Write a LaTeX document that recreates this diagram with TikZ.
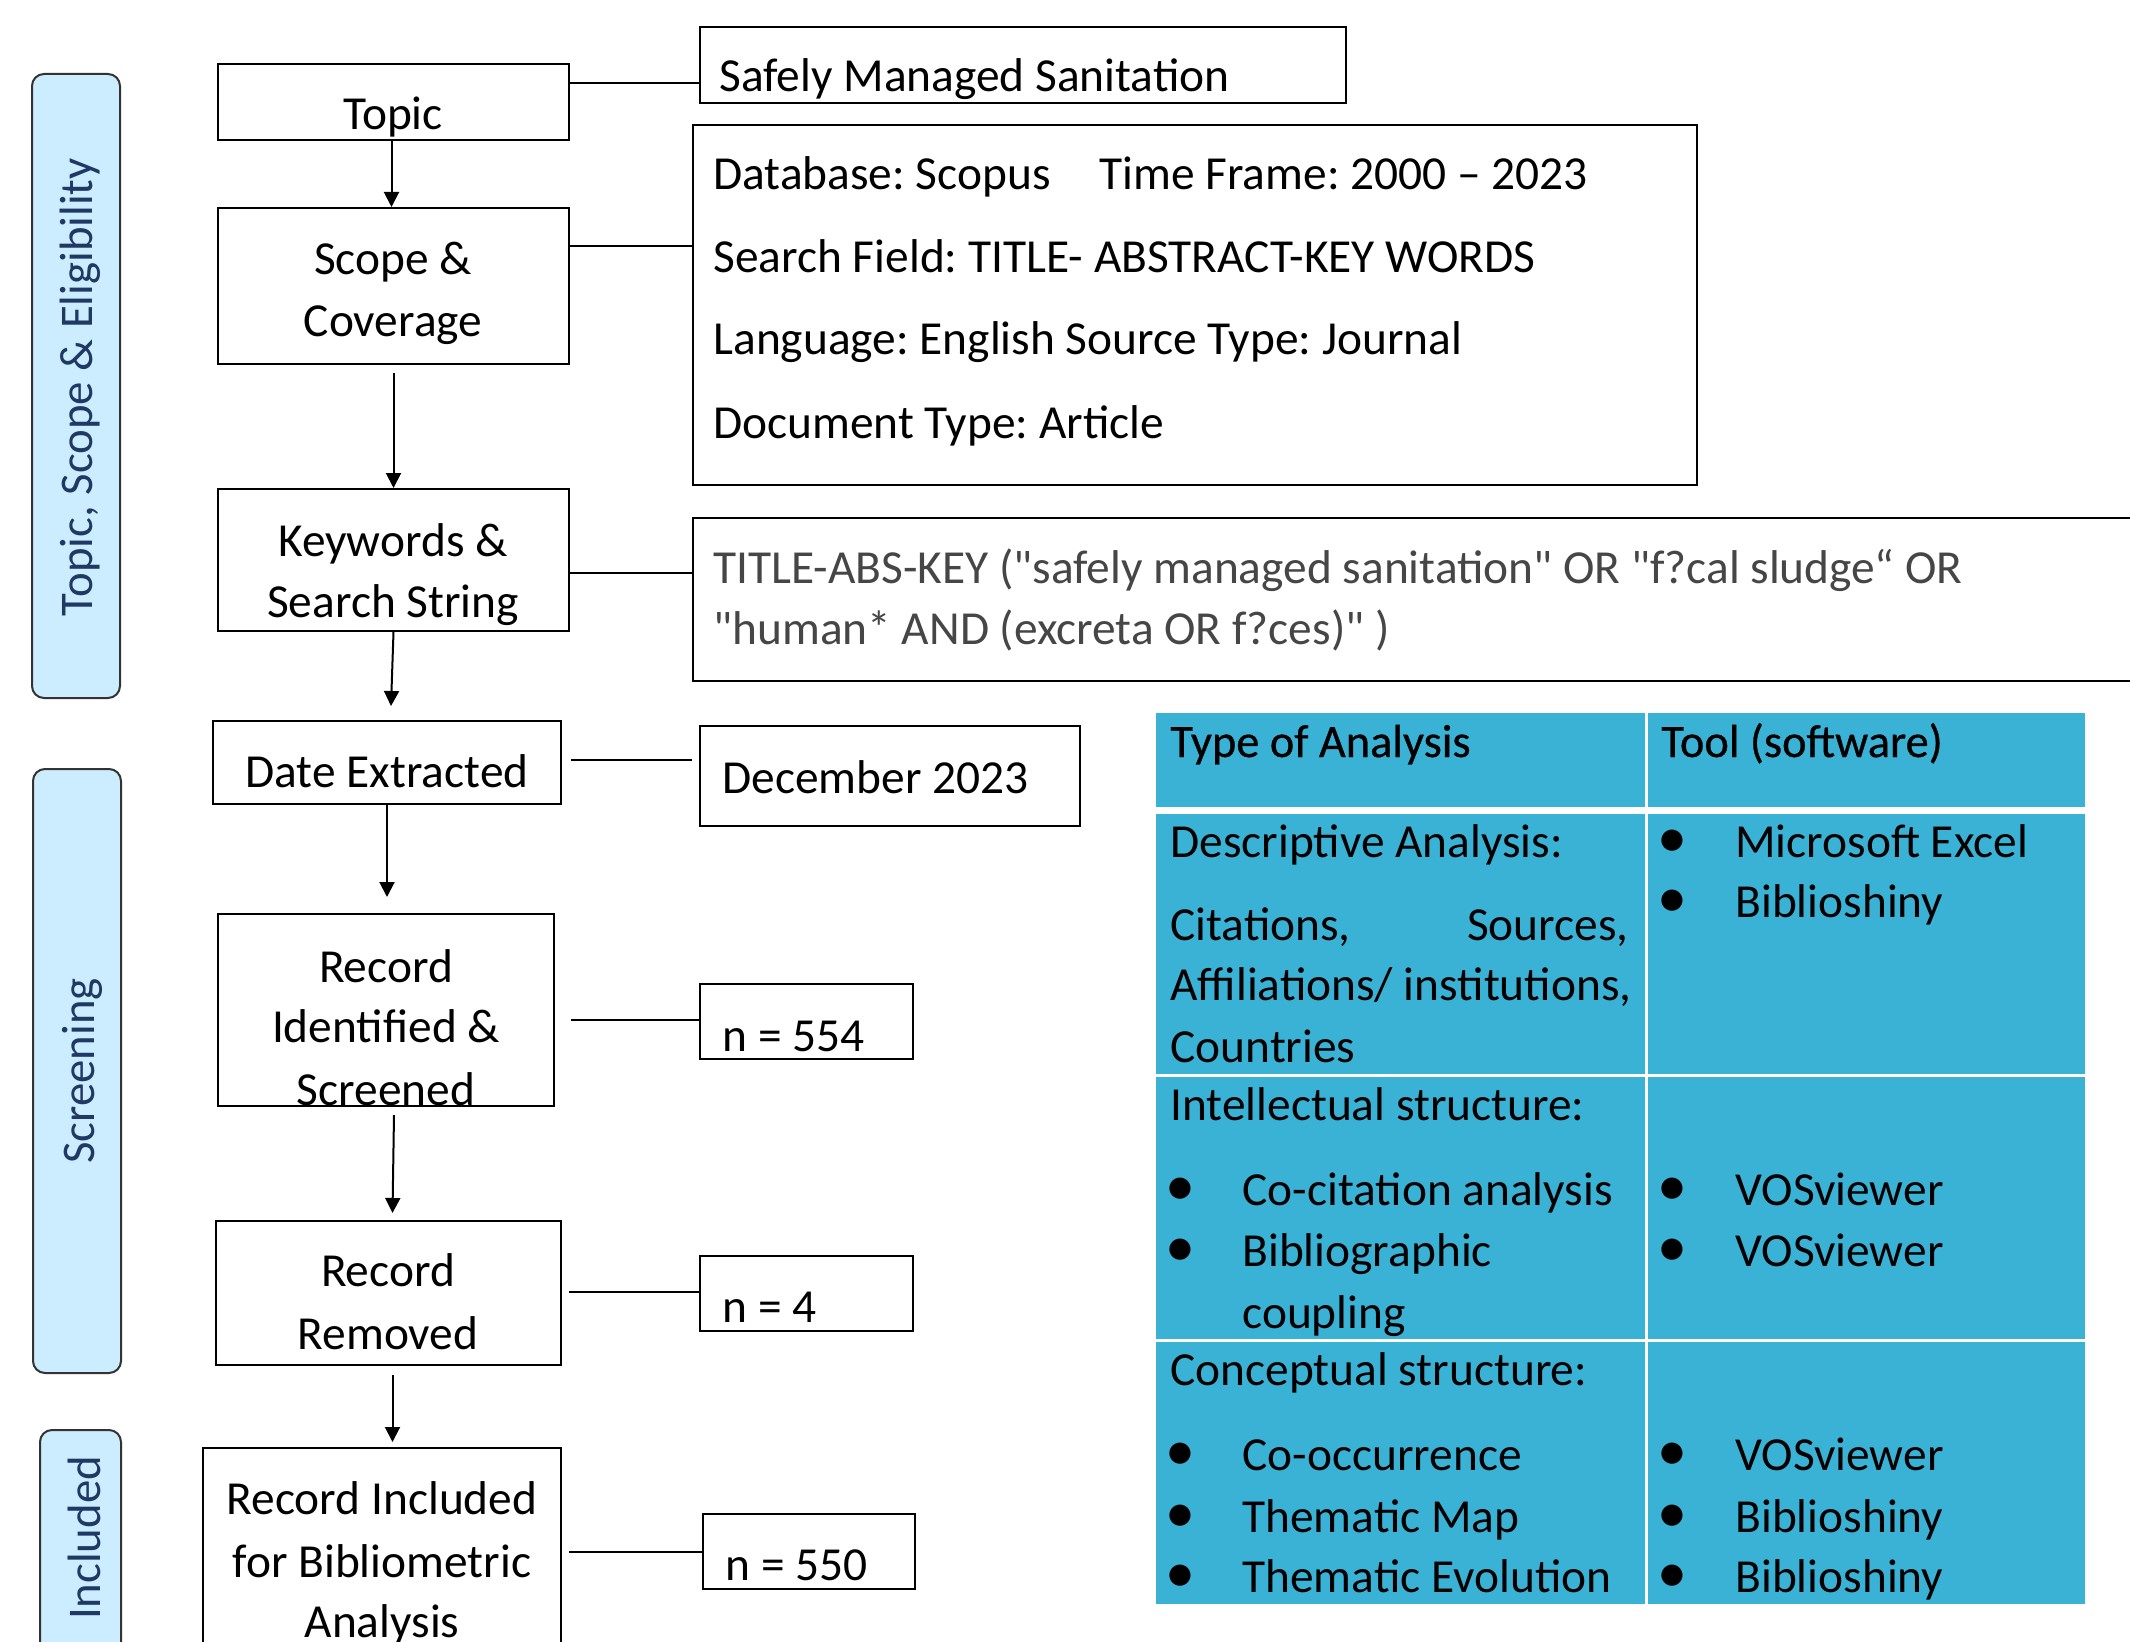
\documentclass[tikz,border=0pt]{standalone}
\usepackage{fontspec}
\setmainfont{Carlito}
\frenchspacing
\usetikzlibrary{arrows.meta,calc}
\definecolor{barfill}{RGB}{204,236,255}
\definecolor{barblue}{RGB}{31,56,100}
\definecolor{tabblue}{RGB}{57,178,214}
\definecolor{qgray}{RGB}{70,70,70}
\newcommand{\qd}{\textquotedbl}
\begin{document}
\begin{tikzpicture}[x=0.5pt,y=-0.5pt,
  box/.style={draw,line width=1pt,inner sep=0pt},
  bar/.style={draw=black!80,fill=barfill,line width=1pt,rounded corners=6pt,inner sep=0pt},
  bartxt/.style={rotate=90,text=barblue,font=\fontsize{23.4}{27}\selectfont,inner sep=0pt},
  txt/.style={font=\fontsize{23.7}{27}\selectfont,inner sep=0pt},
  ttxt/.style={font=\fontsize{23.7}{27}\selectfont,inner sep=0pt,anchor=base west},
  htxt/.style={font=\fontsize{23.2}{27}\selectfont\addfontfeature{FakeBold=0.6},inner sep=0pt,anchor=base west},
  bul/.style={font=\fontsize{30}{30}\selectfont,inner sep=0pt,anchor=base},
  cell/.style={fill=tabblue,inner sep=0pt},
  arr/.style={line width=1pt,-{Triangle[length=7.5pt,width=7.5pt]}},
  conn/.style={line width=1pt}]
\useasboundingbox (0,0) rectangle (2130,1642);
\clip (0,0) rectangle (2130,1642);
\fill[white] (0,0) rectangle (2130,1642);

% side bars
\node[bar,minimum width=44pt,minimum height=312pt] (bar1) at (76,386) {};
\node[bartxt] (bar1t) at (80,387) {Topic, Scope \& Eligibility};
\node[bar,minimum width=44pt,minimum height=302pt] (bar2) at (77,1071) {};
\node[bartxt] (bar2t) at (82,1071) {Screening};
\node[bar,minimum width=40.5pt,minimum height=160pt] (bar3) at (80.5,1590) {};
\node[bartxt] (bar3t) at (84,1538) {Included};

% flow boxes
\node[box,minimum width=175.5pt,minimum height=38pt] (topic) at (393.5,102) {};
\node[txt,anchor=base] (topict) at (393,130) {Topic};
\node[box,minimum width=175.5pt,minimum height=78pt] (scope) at (393.5,286) {};
\node[txt,anchor=base] (scopet1) at (393,275) {Scope \&};
\node[txt,anchor=base] (scopet2) at (393,337) {Coverage};
\node[box,minimum width=175.5pt,minimum height=71pt] (keywords) at (393.5,560) {};
\node[txt,anchor=base] (kwt1) at (393,556) {Keywords \&};
\node[txt,anchor=base] (kwt2) at (393,617) {Search String};
\node[box,minimum width=174pt,minimum height=41.5pt] (date) at (387,762.5) {};
\node[txt,anchor=base] (datet) at (387,787) {Date Extracted};
\node[box,minimum width=168pt,minimum height=96pt] (ident) at (386,1010) {};
\node[txt,anchor=base] (identt1) at (386,982) {Record};
\node[txt,anchor=base] (identt2) at (386,1042) {Identified \&};
\node[txt,anchor=base] (identt3) at (386,1105) {Screened};
\node[box,minimum width=172.5pt,minimum height=72pt] (removed) at (388.5,1293) {};
\node[txt,anchor=base] (remt1) at (388,1286) {Record};
\node[txt,anchor=base] (remt2) at (388,1349) {Removed};
\node[box,minimum width=179pt,minimum height=126pt] (included) at (382,1574) {};
\node[txt,anchor=base] (inct1) at (382,1514) {Record Included};
\node[txt,anchor=base] (inct2) at (382,1577) {for Bibliometric};
\node[txt,anchor=base] (inct3) at (382,1637) {Analysis};

% right boxes
\node[box,minimum width=323pt,minimum height=38pt] (safely) at (1023,65) {};
\node[txt,anchor=base west] (safelyt) at (719,92) {Safely Managed Sanitation};
\node[box,minimum width=502pt,minimum height=180pt] (database) at (1195,305) {};
\node[txt,anchor=base west] (dbt1) at (713,190) {Database: Scopus};
\node[txt,anchor=base west] (dbt1b) at (1099,190) {Time Frame: 2000 – 2023};
\node[txt,anchor=base west] (dbt2) at (713,273) {Search Field: TITLE- ABSTRACT-KEY WORDS};
\node[txt,anchor=base west] (dbt3) at (713,355) {Language: English Source Type: Journal};
\node[txt,anchor=base west] (dbt4) at (713,438) {Document Type: Article};
\node[box,minimum width=753.5pt,minimum height=81.5pt] (title) at (1446.5,599.5) {};
\node[txt,anchor=base west,text=qgray] (titlet1) at (713,583) {TITLE-ABS-KEY (\qd safely managed sanitation\qd{} OR \qd f?cal sludge“ OR};
\node[txt,anchor=base west,text=qgray] (titlet2) at (713,644) {\qd human* AND (excreta OR f?ces)\qd{} )};
\node[box,minimum width=190pt,minimum height=50pt] (december) at (890,776) {};
\node[txt,anchor=base west] (dect) at (722,793) {December 2023};
\node[box,minimum width=106.5pt,minimum height=37.5pt] (n554) at (806.5,1021.5) {};
\node[txt,anchor=base west] (n554t) at (722,1051) {n = 554};
\node[box,minimum width=106.5pt,minimum height=37.5pt] (n4) at (806.5,1293.5) {};
\node[txt,anchor=base west] (n4t) at (722,1322) {n = 4};
\node[box,minimum width=106pt,minimum height=37.5pt] (n550) at (809,1551.5) {};
\node[txt,anchor=base west] (n550t) at (725,1580) {n = 550};

% arrows
\draw[arr] ($(topic.south)+(-2,0)$) -- ($(scope.north)+(-2,0)$);
\draw[arr] ($(scope.south)+(0,8)$) -- (keywords.north);
\draw[arr] (keywords.south) -- ($(date.north)+(4,-14)$);
\draw[arr] (date.south) -- ($(ident.north)+(1,-16)$);
\draw[arr] ($(ident.south)+(8,8)$) -- ($(removed.north)+(4,-7)$);
\draw[arr] ($(removed.south)+(4,9)$) -- ($(included.north)+(10.5,-5)$);

% connectors
\draw[conn] ($(topic.east)+(0,-19)$) -- ($(safely.west)+(0,18)$);
\draw[conn] ($(scope.east)+(-2,-40)$) -- ($(database.west)+(0,-59)$);
\draw[conn] ($(keywords.east)+(0,13)$) -- ($(title.west)+(0,-26.5)$);
\draw[conn,shorten <=4.5pt,shorten >=3.5pt] ($(date.east)+(0,-2.5)$) -- ($(december.west)+(0,-16)$);
\draw[conn,shorten <=8pt] ($(ident.east)+(0,10)$) -- ($(n554.west)+(0,-1.5)$);
\draw[conn,shorten <=3.5pt] ($(removed.east)+(0,-1)$) -- ($(n4.west)+(0,-1.5)$);
\draw[conn,shorten <=3.5pt] ($(included.east)+(0,-22)$) -- ($(n550.west)+(0,0.5)$);

% table
\node[cell,minimum width=244.5pt,minimum height=47pt] (h1) at (1400.5,760) {};
\node[cell,minimum width=218.5pt,minimum height=47pt] (h2) at (1866.5,760) {};
\node[cell,minimum width=244.5pt,minimum height=130pt] (r1a) at (1400.5,944) {};
\node[cell,minimum width=218.5pt,minimum height=130pt] (r1b) at (1866.5,944) {};
\node[cell,minimum width=244.5pt,minimum height=131pt] (r2a) at (1400.5,1208) {};
\node[cell,minimum width=218.5pt,minimum height=131pt] (r2b) at (1866.5,1208) {};
\node[cell,minimum width=244.5pt,minimum height=131pt] (r3a) at (1400.5,1473) {};
\node[cell,minimum width=218.5pt,minimum height=131pt] (r3b) at (1866.5,1473) {};

\node[htxt] (th1) at (1170,757) {Type of Analysis};
\node[htxt] (th2) at (1661,757) {Tool (software)};

\node[ttxt] (a1) at (1170,857) {Descriptive Analysis:};
\node[ttxt] (a2) at (1170,940) {Citations,};
\node[ttxt,anchor=base east] (a2b) at (1629,940) {Sources,};
\node[ttxt] (a3) at (1170,1000) {Affiliations/ institutions,};
\node[ttxt] (a4) at (1170,1062) {Countries};
\node[bul] (b1) at (1672,857) {•};
\node[ttxt] (t1) at (1735,857) {Microsoft Excel};
\node[bul] (b2) at (1672,917) {•};
\node[ttxt] (t2) at (1735,917) {Biblioshiny};

\node[ttxt] (i0) at (1170,1120) {Intellectual structure:};
\node[bul] (ib1) at (1180,1205) {•};
\node[ttxt] (i1) at (1242,1205) {Co-citation analysis};
\node[bul] (ib2) at (1180,1266) {•};
\node[ttxt] (i2) at (1242,1266) {Bibliographic};
\node[ttxt] (i3) at (1242,1328) {coupling};
\node[bul] (tb3) at (1672,1205) {•};
\node[ttxt] (t3) at (1735,1205) {VOSviewer};
\node[bul] (tb4) at (1672,1266) {•};
\node[ttxt] (t4) at (1735,1266) {VOSviewer};

\node[ttxt] (c0) at (1170,1385) {Conceptual structure:};
\node[bul] (cb1) at (1180,1470) {•};
\node[ttxt] (c1) at (1242,1470) {Co-occurrence};
\node[bul] (cb2) at (1180,1532) {•};
\node[ttxt] (c2) at (1242,1532) {Thematic Map};
\node[bul] (cb3) at (1180,1592) {•};
\node[ttxt] (c3) at (1242,1592) {Thematic Evolution};
\node[bul] (tb5) at (1672,1470) {•};
\node[ttxt] (t5) at (1735,1470) {VOSviewer};
\node[bul] (tb6) at (1672,1532) {•};
\node[ttxt] (t6) at (1735,1532) {Biblioshiny};
\node[bul] (tb7) at (1672,1592) {•};
\node[ttxt] (t7) at (1735,1592) {Biblioshiny};
\end{tikzpicture}
\end{document}
